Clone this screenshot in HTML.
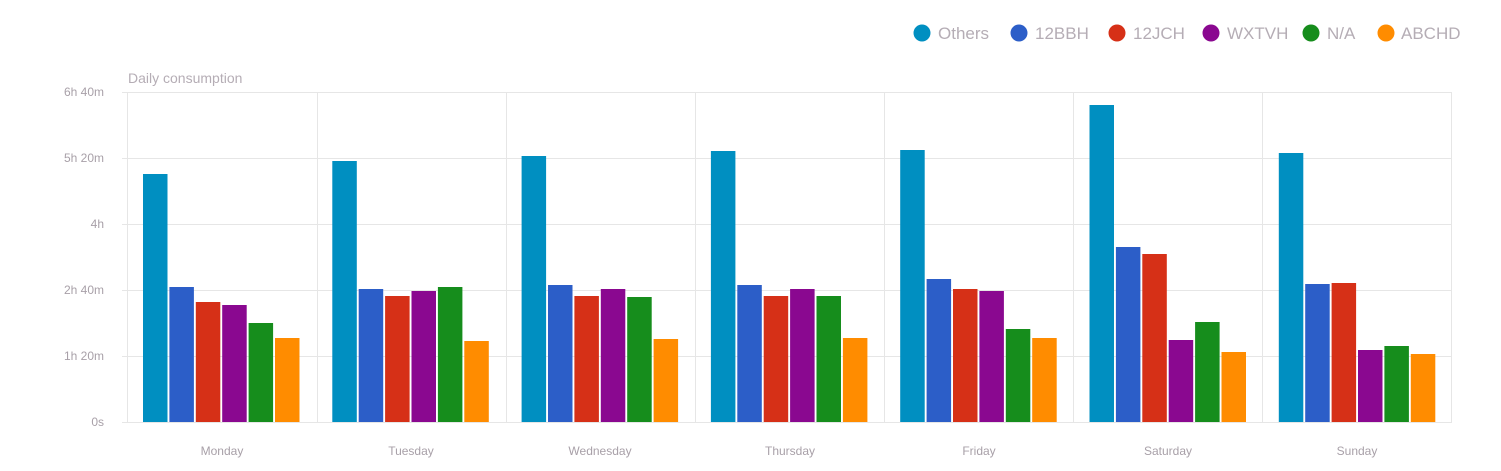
<!DOCTYPE html>
<html><head><meta charset="utf-8"><style>
body{margin:0;background:#fff;}
svg{display:block;font-family:"Liberation Sans",sans-serif;}
</style></head><body>
<svg id="s" width="1501" height="471" viewBox="0 0 1501 471">
<g font-size="17" fill="#b5adb5">
<circle cx="922" cy="33" r="8.5" fill="#008fc1"/><text x="938" y="39">Others</text>
<circle cx="1019" cy="33" r="8.5" fill="#2c5ec8"/><text x="1035" y="39">12BBH</text>
<circle cx="1117" cy="33" r="8.5" fill="#d63017"/><text x="1133" y="39">12JCH</text>
<circle cx="1211" cy="33" r="8.5" fill="#8a0890"/><text x="1227" y="39">WXTVH</text>
<circle cx="1311" cy="33" r="8.5" fill="#168d1c"/><text x="1327" y="39">N/A</text>
<circle cx="1386" cy="33" r="8.5" fill="#ff8c00"/><text x="1401" y="39">ABCHD</text>
</g>
<text x="128" y="83" font-size="14" fill="#b5adb5">Daily consumption</text>
<g stroke="#e6e6e6" stroke-width="1">
<line x1="122" y1="92.5" x2="1452" y2="92.5"/>
<line x1="122" y1="158.5" x2="1452" y2="158.5"/>
<line x1="122" y1="224.5" x2="1452" y2="224.5"/>
<line x1="122" y1="290.5" x2="1452" y2="290.5"/>
<line x1="122" y1="356.5" x2="1452" y2="356.5"/>
<line x1="122" y1="422.5" x2="1452" y2="422.5"/>
<line x1="127.5" y1="92" x2="127.5" y2="422"/>
<line x1="317.5" y1="92" x2="317.5" y2="422"/>
<line x1="506.5" y1="92" x2="506.5" y2="422"/>
<line x1="695.5" y1="92" x2="695.5" y2="422"/>
<line x1="884.5" y1="92" x2="884.5" y2="422"/>
<line x1="1073.5" y1="92" x2="1073.5" y2="422"/>
<line x1="1262.5" y1="92" x2="1262.5" y2="422"/>
<line x1="1451.5" y1="92" x2="1451.5" y2="422"/>
</g>
<g font-size="12" fill="#a8a0a8" text-anchor="end">
<text x="104" y="96">6h 40m</text>
<text x="104" y="162">5h 20m</text>
<text x="104" y="228">4h</text>
<text x="104" y="294">2h 40m</text>
<text x="104" y="360">1h 20m</text>
<text x="104" y="426">0s</text>
</g>
<g font-size="12" fill="#a8a0a8" text-anchor="middle">
<text x="222" y="455">Monday</text>
<text x="411" y="455">Tuesday</text>
<text x="600" y="455">Wednesday</text>
<text x="790" y="455">Thursday</text>
<text x="979" y="455">Friday</text>
<text x="1168" y="455">Saturday</text>
<text x="1357" y="455">Sunday</text>
</g>
<g id="bars"></g>
</svg>
<script>
var tops=[[174,287,302,305,323,338],[161,289,296,291,287,341],[156,285,296,289,297,339],[151,285,296,289,296,338],[150,279,289,291,329,338],[105,247,254,340,322,352],[153,284,283,350,346,354]];
var cols=["#008fc1","#2c5ec8","#d63017","#8a0890","#168d1c","#ff8c00"];
var g=document.getElementById("bars"),h="";
for(var i=0;i<7;i++)for(var j=0;j<6;j++){
var x=127+i*189.3+16+j*26.4;
h+='<rect x="'+x.toFixed(1)+'" y="'+tops[i][j]+'" width="24.5" height="'+(422-tops[i][j])+'" fill="'+cols[j]+'"/>';}
g.innerHTML=h;
</script>
</body></html>
